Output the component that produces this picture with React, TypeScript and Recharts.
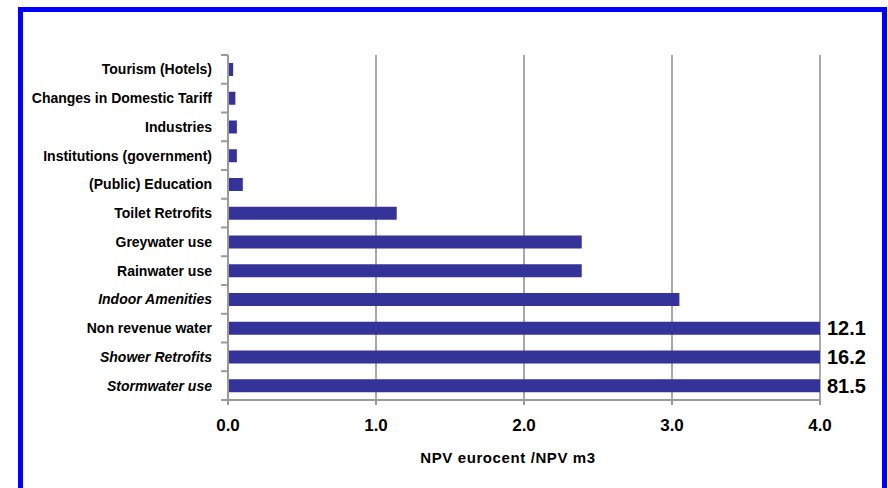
import React from "react";
import { BarChart, Bar, XAxis, YAxis, CartesianGrid, LabelList } from "recharts";

const categories = [
  "Tourism (Hotels)",
  "Changes in Domestic Tariff",
  "Industries",
  "Institutions (government)",
  "(Public) Education",
  "Toilet Retrofits",
  "Greywater use",
  "Rainwater use",
  "Indoor Amenities",
  "Non revenue water",
  "Shower Retrofits",
  "Stormwater use",
];
const values = [0.035, 0.05, 0.06, 0.06, 0.1, 1.14, 2.39, 2.39, 3.05, 12.1, 16.2, 81.5];
const italicCategories = ["Indoor Amenities", "Shower Retrofits", "Stormwater use"];
const xTicks = [0, 1, 2, 3, 4];
const xMax = 4;
const axisTitle = "NPV eurocent /NPV m3";

const data = categories.map((name, i) => ({ name, value: values[i] }));

const W = 888;
const H = 488;
const MARGIN = { top: 55, right: 68, bottom: 58, left: 0 };
const Y_AXIS_W = 228;
const X_AXIS_H = 30;
const PLOT_LEFT = MARGIN.left + Y_AXIS_W;
const PLOT_RIGHT = W - MARGIN.right;
const PLOT_TOP = MARGIN.top;
const PLOT_BOTTOM = H - MARGIN.bottom - X_AXIS_H;
const BAND = (PLOT_BOTTOM - PLOT_TOP) / categories.length;
const FONT = "'Liberation Sans', Arial, sans-serif";
const AXIS_GREY = "#9a9a9a";

const YTick = (props: any) => {
  const { y, payload, index } = props;
  const italic = italicCategories.includes(payload.value);
  const top = y - BAND / 2;
  const bottom = y + BAND / 2;
  return (
    <g>
      <line x1={PLOT_LEFT - 7} x2={PLOT_LEFT} y1={top} y2={top} stroke={AXIS_GREY} strokeWidth={2} />
      {index === categories.length - 1 && (
        <line x1={PLOT_LEFT - 7} x2={PLOT_LEFT} y1={bottom} y2={bottom} stroke={AXIS_GREY} strokeWidth={2} />
      )}
      <text
        x={PLOT_LEFT - 16}
        y={y}
        textAnchor="end"
        dominantBaseline="central"
        fontFamily={FONT}
        fontSize={14}
        fontWeight="bold"
        fontStyle={italic ? "italic" : "normal"}
        fill="#000"
      >
        {payload.value}
      </text>
    </g>
  );
};

const XTick = (props: any) => {
  const { x, payload } = props;
  return (
    <text
      x={x}
      y={PLOT_BOTTOM + 31}
      textAnchor="middle"
      fontFamily={FONT}
      fontSize={17}
      fontWeight="bold"
      fill="#000"
    >
      {Number(payload.value).toFixed(1)}
    </text>
  );
};

const OverflowLabel = (props: any) => {
  const { y, height, value } = props;
  if (value <= xMax) return null;
  return (
    <text
      x={PLOT_RIGHT + 7}
      y={y + height / 2}
      dominantBaseline="central"
      fontFamily={FONT}
      fontSize={20}
      fontWeight="bold"
      fill="#000"
    >
      {value}
    </text>
  );
};

export default function App() {
  return (
    <div
      style={{
        position: "fixed",
        left: 0,
        top: 0,
        width: W,
        height: H,
        overflow: "hidden",
        background: "#fff",
      }}
    >
      <div
        style={{
          position: "absolute",
          left: 18,
          top: 7,
          width: 869,
          height: 600,
          border: "5px solid #0000ff",
          boxSizing: "border-box",
        }}
      />
      <div style={{ position: "absolute", left: 0, top: 0 }}>
        <BarChart width={W} height={H} data={data} layout="vertical" margin={MARGIN}>
          <CartesianGrid horizontal={false} vertical={true} stroke="#a8a8a8" strokeWidth={2} />
          <XAxis
            type="number"
            domain={[0, xMax]}
            ticks={xTicks}
            allowDataOverflow
            height={X_AXIS_H}
            axisLine={{ stroke: AXIS_GREY, strokeWidth: 2 }}
            tickLine={{ stroke: AXIS_GREY, strokeWidth: 2 }}
            tickSize={5}
            tick={<XTick />}
            interval={0}
          />
          <YAxis
            type="category"
            dataKey="name"
            width={Y_AXIS_W}
            axisLine={{ stroke: AXIS_GREY, strokeWidth: 2 }}
            tickLine={false}
            tick={<YTick />}
            interval={0}
          />
          <Bar dataKey="value" fill="#333399" barSize={13} isAnimationActive={false}>
            <LabelList dataKey="value" content={<OverflowLabel />} />
          </Bar>
        </BarChart>
      </div>
      <div
        style={{
          position: "absolute",
          left: 508,
          top: 457,
          transform: "translate(-50%, -50%)",
          fontFamily: FONT,
          fontSize: 15,
          fontWeight: "bold",
          letterSpacing: 0.6,
          whiteSpace: "nowrap",
          color: "#000",
        }}
      >
        {axisTitle}
      </div>
    </div>
  );
}
